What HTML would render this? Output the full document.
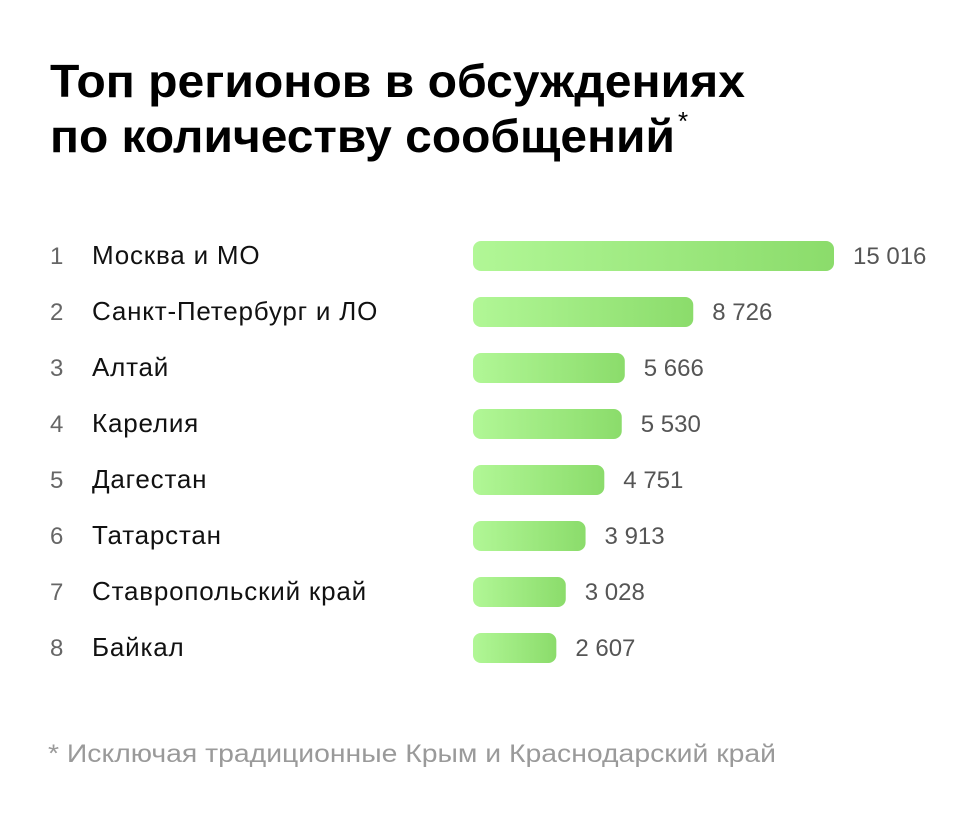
<!DOCTYPE html>
<html><head><meta charset="utf-8">
<style>
body{margin:0;background:#fff;}
svg{display:block;font-family:"Liberation Sans",sans-serif;}
</style></head>
<body>
<svg id="chart" width="980" height="826" viewBox="0 0 980 826">
<defs>
<linearGradient id="g" x1="0" x2="1" y1="0" y2="0">
<stop offset="0" stop-color="#b1f796"/><stop offset="1" stop-color="#8bdc6b"/>
</linearGradient>
</defs>
<text x="50" y="97" font-size="46" font-weight="bold" fill="#000" textLength="695" lengthAdjust="spacingAndGlyphs">Топ регионов в обсуждениях</text>
<text x="50" y="152" font-size="46" font-weight="bold" fill="#000" textLength="625" lengthAdjust="spacingAndGlyphs">по количеству сообщений</text>
<text x="678" y="130" font-size="26" fill="#000">*</text>
<g id="rows"></g>
<text x="48" y="762" font-size="25" fill="#9a9a9a" textLength="728" lengthAdjust="spacingAndGlyphs">* Исключая традиционные Крым и Краснодарский край</text>
</svg>
<script>
const categories = ["Москва и МО","Санкт-Петербург и ЛО","Алтай","Карелия","Дагестан","Татарстан","Ставропольский край","Байкал"];
const values = [15016, 8726, 5666, 5530, 4751, 3913, 3028, 2607];
const valueLabels = ["15 016","8 726","5 666","5 530","4 751","3 913","3 028","2 607"];

const NS = "http://www.w3.org/2000/svg";
const g = document.getElementById("rows");
const x0 = 473;
const maxV = Math.max(...values);
function xScale(v){ return 25 + (v / maxV) * 336; }
function yScale(i){ return 241 + i * 56; }
function mk(tag, attrs){ const e = document.createElementNS(NS, tag); for (const k in attrs) e.setAttribute(k, attrs[k]); return e; }
categories.forEach((c, i) => {
  const y = yScale(i);
  const w = xScale(values[i]);
  const rank = mk("text", {x:50, y:y+23, "font-size":24, fill:"#666"});
  rank.textContent = String(i+1);
  
  
  g.appendChild(rank);
  const lab = mk("text", {x:92, y:y+23, "font-size":26, fill:"#111", "letter-spacing":"0.8"});
  lab.textContent = c;
  
  
  g.appendChild(lab);
  const bar = mk("rect", {x:x0, y:y, width:w, height:30, rx:8, fill:"url(#g)"});
  
  
  g.appendChild(bar);
  const vl = mk("text", {x:x0 + w + 19, y:y+23, "font-size":24, fill:"#555"});
  vl.textContent = valueLabels[i];
  
  
  g.appendChild(vl);
});
</script>
</body></html>
